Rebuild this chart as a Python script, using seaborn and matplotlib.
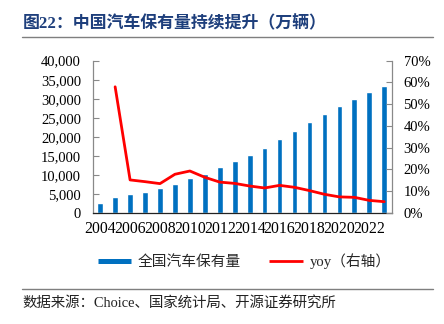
import numpy as np
import pandas as pd
import matplotlib
matplotlib.use("Agg")
import matplotlib.pyplot as plt
import seaborn as sns
from matplotlib.ticker import FuncFormatter, PercentFormatter, FixedLocator
from matplotlib.lines import Line2D

# China vehicle stock (10k vehicles) and year-over-year growth
years = list(range(2004, 2024))
stock = [2700, 4270, 4880, 5580, 6450, 7490, 9060, 10370, 12030, 13590,
         15340, 17170, 19350, 21610, 23970, 26060, 27970, 29980, 31810, 33460]
yoy_years = list(range(2005, 2024))
yoy = [58.0, 15.2, 14.4, 13.5, 17.8, 19.3, 16.4, 14.2, 13.6, 12.4,
       11.5, 12.7, 11.8, 10.3, 8.6, 7.4, 7.2, 5.8, 5.2]

title = "图22：中国汽车保有量持续提升（万辆）"
bar_label = "全国汽车保有量"
line_label = "yoy（右轴）"
source = "数据来源：Choice、国家统计局、开源证券研究所"

sns.set_theme(style="white")
plt.rcParams["font.family"] = ["Liberation Serif", "Noto Sans CJK SC", "DejaVu Sans"]

BLUE = "#0070C0"
RED = "#FF0000"
AXIS_GREY = "#898989"

fig = plt.figure(figsize=(4.44, 3.24), dpi=100)
ax = fig.add_axes([0.2088, 0.3426, 0.8822 - 0.2088, 0.8127 - 0.3426])

df = pd.DataFrame({"year": [str(y) for y in years], "stock": stock})
sns.barplot(data=df, x="year", y="stock", color=BLUE, saturation=1,
            width=0.38, ax=ax)

ax2 = ax.twinx()
line_x = [years.index(y) for y in yoy_years]
sns.lineplot(x=line_x, y=yoy, color=RED, lw=2, ax=ax2)

ax.set_xlim(-0.5, len(years) - 0.5)
ax2.set_xlim(-0.5, len(years) - 0.5)
ax.set_ylim(0, 40000)
ax2.set_ylim(0, 70)
ax.set_xlabel("")
ax.set_ylabel("")
ax2.set_xlabel("")
ax2.set_ylabel("")

ax.yaxis.set_major_locator(FixedLocator(np.arange(0, 40001, 5000)))
ax.yaxis.set_major_formatter(FuncFormatter(lambda v, p: f"{v:,.0f}"))
ax2.yaxis.set_major_locator(FixedLocator(np.arange(0, 71, 10)))
ax2.yaxis.set_major_formatter(PercentFormatter(xmax=100, decimals=0))

ax.set_xticks(range(0, len(years), 2))
ax.set_xticklabels([str(y) for y in years[::2]])
ax.set_xticks(np.arange(-0.5, len(years), 1), minor=True)

serif = ["Liberation Serif", "DejaVu Sans"]
for lab in ax.get_yticklabels() + ax2.get_yticklabels():
    lab.set_fontfamily(serif)
    lab.set_fontsize(10.5)
    lab.set_color("black")
for lab in ax.get_xticklabels():
    lab.set_fontfamily(serif)
    lab.set_fontsize(11.3)
    lab.set_color("black")

ax.tick_params(axis="x", which="major", length=0, pad=5.5)
ax.tick_params(axis="x", which="minor", direction="in", length=4,
               width=0.8, color=AXIS_GREY)
ax.tick_params(axis="y", left=True, direction="in", length=4, width=0.8,
               color=AXIS_GREY, pad=8.5)
ax2.tick_params(axis="y", right=True, direction="in", length=4, width=0.8,
                color=AXIS_GREY, pad=8.5)

for a in (ax, ax2):
    a.spines["top"].set_visible(False)
    a.spines["left"].set_color(AXIS_GREY)
    a.spines["right"].set_color(AXIS_GREY)
    a.spines["bottom"].set_color("#222222")
    for s in a.spines.values():
        s.set_linewidth(0.9)
    a.grid(False)
ax.spines["right"].set_visible(False)
ax2.spines["left"].set_visible(False)
ax2.spines["bottom"].set_visible(False)
ax.patch.set_alpha(0)

handles = [Line2D([], [], color=BLUE, lw=3.6, solid_capstyle="butt"),
           Line2D([], [], color=RED, lw=2, solid_capstyle="butt")]
fig.legend(handles, [bar_label, line_label], loc="center",
           bbox_to_anchor=(0.55, 0.194), ncol=2, frameon=False,
           handlelength=2.3, handletextpad=0.45, columnspacing=1.9,
           prop=dict(family=["Liberation Serif", "Noto Sans CJK SC"], size=10.6))

fig.text(0.052, 0.926, title, ha="left", va="center", fontsize=12.2,
         fontweight="bold", color="#1E3F7C",
         family=["Liberation Serif", "Noto Sans CJK SC"])
fig.add_artist(Line2D([0.05, 0.975], [0.886, 0.886], color="#7F7F7F", lw=1))
fig.add_artist(Line2D([0.05, 0.975], [0.108, 0.108], color="#7F7F7F", lw=1))
fig.text(0.05, 0.065, source, ha="left", va="center", fontsize=10.4,
         color="#222222", family=["Liberation Serif", "Noto Sans CJK SC"])

fig.savefig("out.png", dpi=100)
